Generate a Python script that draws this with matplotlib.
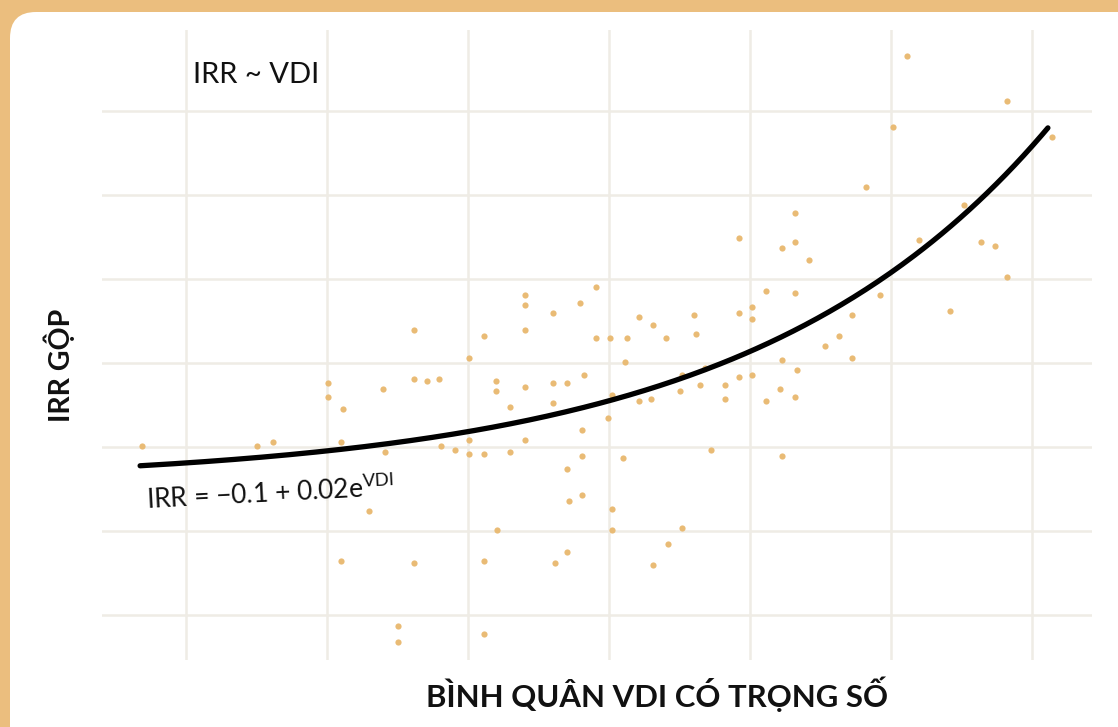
import numpy as np
import matplotlib
matplotlib.use("Agg")
import matplotlib.pyplot as plt
from matplotlib.patches import FancyBboxPatch
from matplotlib.transforms import IdentityTransform

plt.rcParams['font.family'] = ['Lato', 'DejaVu Sans']
plt.rcParams['mathtext.default'] = 'regular'

# weighted average VDI of each fund
vdi = [0.774, 1.156, 1.209, 1.680, 1.912, 1.863, 1.394, 1.394, 1.442, 1.578,
       1.680, 1.722, 1.762, 1.953, 1.953, 1.436, 1.584, 1.769, 1.817, 1.863,
       1.863, 1.912, 1.531, 1.958, 1.436, 1.680, 1.912, 1.627, 1.627, 1.912,
       2.049, 2.049, 2.049, 2.144, 2.233, 2.287, 2.287, 2.334, 2.389, 2.430,
       2.478, 2.519, 2.614, 2.621, 2.764, 2.806, 2.806, 2.853, 2.949, 3.050,
       3.098, 3.139, 2.382, 2.908, 2.001, 2.049, 2.144, 2.191, 2.247, 2.144,
       2.341, 2.430, 2.471, 2.328, 2.239, 2.049, 2.001, 2.239, 2.376, 2.191,
       2.239, 2.198, 2.341, 2.341, 2.573, 2.526, 2.151, 2.191, 2.478, 2.573,
       2.567, 2.649, 2.634, 2.717, 2.717, 2.764, 2.806, 2.853, 2.901, 2.956,
       2.949, 2.669, 2.908, 3.323, 3.658, 3.276, 3.807, 3.187, 2.949, 2.764,
       2.908, 2.949, 2.996, 3.514, 3.363, 3.569, 3.617, 3.658, 3.234, 3.467,
       3.139]
# gross IRR of each fund
irr = [-0.0075, -0.0075, 0.0025, 0.283, 0.268, 0.2125, 0.151, 0.115, 0.084, 0.135,
       0.161, 0.156, 0.161, 0.156, 0.131, 0.0025, -0.0225, -0.0075, -0.0175, 0.0075,
       -0.0275, -0.0275, -0.171, -0.2175, -0.294, -0.299, -0.294, -0.4575, -0.4975, -0.4775,
       0.370, 0.345, 0.283, 0.324, 0.350, 0.391, 0.263, 0.263, 0.263, 0.314,
       0.294, 0.263, 0.319, 0.273, 0.324, 0.340, 0.309, 0.381, 0.376, 0.2425,
       0.268, 0.212, 0.202, 0.207, 0.089, 0.141, 0.151, 0.151, 0.171, 0.099,
       0.120, 0.105, 0.110, 0.063, 0.033, 0.0075, -0.023, -0.033, -0.038, -0.064,
       -0.130, -0.146, -0.166, -0.2175, -0.2125, -0.2525, -0.299, -0.273, -0.304, 0.171,
       0.131, 0.187, 0.146, 0.146, 0.110, 0.166, 0.171, 0.105, 0.136, 0.182,
       0.115, -0.018, -0.033, 0.968, 0.856, 0.789, 0.764, 0.641, 0.575, 0.513,
       0.4875, 0.503, 0.4575, 0.595, 0.508, 0.503, 0.4925, 0.416, 0.370, 0.330,
       0.319]

# fitted curve IRR = -0.1 + 0.02 e^VDI
fit_a, fit_b = -0.1, 0.02
fit_range = (0.767, 3.793)

dot_color = '#E9BB75'
frame_color = '#EBBE7E'
grid_color = '#EFECE5'

W, H = 1118, 727
fig = plt.figure(figsize=(W / 100, H / 100), dpi=100)
fig.patch.set_facecolor(frame_color)

# white card with rounded corner, running off the right/bottom edges
card = FancyBboxPatch((10, -40), W + 40, H - 12 + 40,
                      boxstyle="round,pad=0,rounding_size=26",
                      transform=IdentityTransform(), facecolor='white',
                      edgecolor='none', zorder=-1)
fig.patches.append(card)

ax = fig.add_axes([102 / W, (H - 660) / H, 990 / W, 630 / H])
ax.set_facecolor('none')
ax.set_xlim(0.64, 3.94)
ax.set_ylim(-0.5425, 1.0325)
ax.set_xticks(np.arange(0.92, 3.75, 0.47))
ax.set_yticks(np.arange(-0.43, 0.84, 0.21))
ax.set_xticklabels([])
ax.set_yticklabels([])
ax.tick_params(length=0)
ax.grid(True, color=grid_color, linewidth=1.8)
ax.set_axisbelow(True)
for s in ax.spines.values():
    s.set_visible(False)

ax.scatter(vdi, irr, s=20, color=dot_color, linewidths=0, zorder=2)

xs = np.linspace(fit_range[0], fit_range[1], 300)
ax.plot(xs, fit_a + fit_b * np.exp(xs), color='black', linewidth=3.8,
        solid_capstyle='round', zorder=3)

fig.text(193 / W, (H - 83) / H, 'IRR ~ VDI', fontsize=21, color='#111111',
         ha='left', va='baseline')
fig.text(147 / W, (H - 509) / H, 'IRR = \u22120.1 + 0.02e$^{VDI}$', fontsize=19,
         color='#111111', rotation=3, rotation_mode='anchor',
         ha='left', va='baseline')
fig.text(657 / W, (H - 694) / H, 'BÌNH QUÂN VDI CÓ TRỌNG SỐ', fontsize=22.4,
         fontweight='bold', color='#111111', ha='center', va='center')
fig.text(59 / W, (H - 365) / H, 'IRR GỘP', fontsize=20.5, fontweight='bold',
         color='#111111', rotation=90, ha='center', va='center')

fig.savefig('out.png', dpi=100, facecolor=fig.get_facecolor())
